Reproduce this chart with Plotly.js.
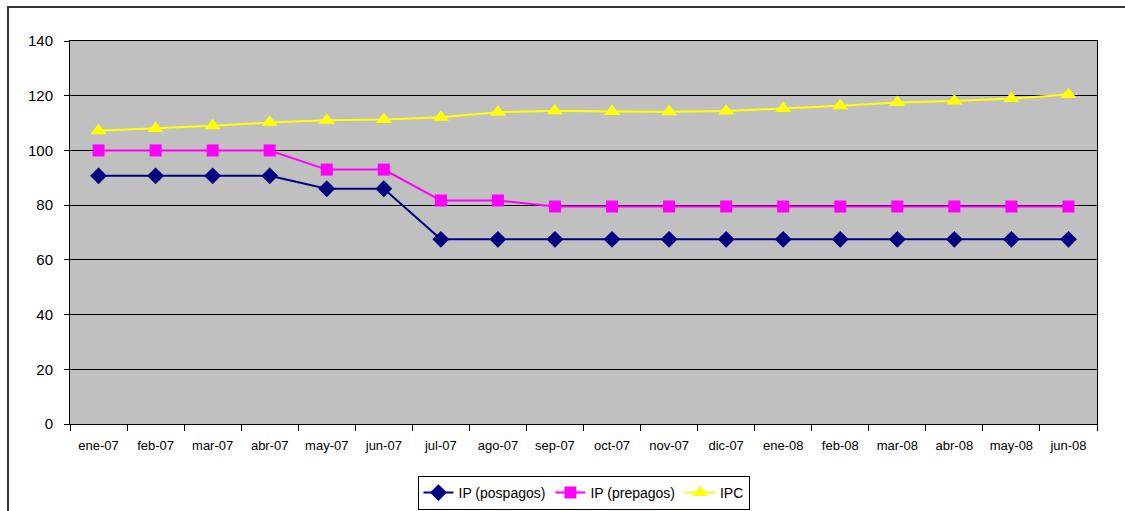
<!DOCTYPE html>
<html>
<head>
<meta charset="utf-8">
<script src="https://cdn.plot.ly/plotly-3.0.1.min.js"></script>
<style>
html,body{margin:0;padding:0;background:#fff;}
#chart{width:1125px;height:511px;}
</style>
</head>
<body>
<div id="chart"></div>
<script>
const months = ["ene-07","feb-07","mar-07","abr-07","may-07","jun-07","jul-07","ago-07","sep-07","oct-07","nov-07","dic-07","ene-08","feb-08","mar-08","abr-08","may-08","jun-08"];
const ipPospagos = [90.7,90.7,90.7,90.7,86,86,67.5,67.5,67.5,67.5,67.5,67.5,67.5,67.5,67.5,67.5,67.5,67.5];
const ipPrepagos = [100,100,100,100,93,93,81.7,81.7,79.5,79.5,79.5,79.5,79.5,79.5,79.5,79.5,79.5,79.5];
const ipc = [107.2,108,109,110.2,111,111.3,112.1,114,114.5,114.2,114.1,114.4,115.3,116.3,117.5,118.1,119,120.4];
const yTicks = [0,20,40,60,80,100,120,140];

const traces = [
  {x: months, y: ipPospagos, name: "IP (pospagos)", type: "scatter", mode: "lines+markers",
   line: {color: "#000080", width: 2}, marker: {symbol: "diamond", size: 13, color: "#000080"}},
  {x: months, y: ipPrepagos, name: "IP (prepagos)", type: "scatter", mode: "lines+markers",
   line: {color: "#FF00FF", width: 2}, marker: {symbol: "square", size: 12, color: "#FF00FF"}},
  {x: months, y: ipc, name: "IPC", type: "scatter", mode: "lines+markers",
   line: {color: "#FFFF00", width: 2}, marker: {symbol: "triangle-up", size: 14, color: "#FFFF00"}}
];

const layout = {
  width: 1125, height: 511,
  margin: {l: 70, r: 28, t: 41, b: 87, autoexpand: false},
  paper_bgcolor: "#ffffff",
  plot_bgcolor: "#C0C0C0",
  font: {family: "Liberation Sans, Arial, sans-serif", size: 13, color: "#000"},
  showlegend: true,
  legend: {orientation: "h", x: 0.5, xanchor: "center", y: (424 - 510) / 383, yanchor: "bottom",
    bordercolor: "#000", borderwidth: 1, bgcolor: "#fff", font: {size: 14},
    itemwidth: 30, tracegroupgap: 0},
  xaxis: {type: "category", categoryorder: "array", categoryarray: months,
    range: [-0.5, 17.5], showgrid: false, zeroline: false, automargin: false,
    showline: true, linecolor: "#000", linewidth: 1, mirror: true,
    ticks: "outside", tickson: "boundaries", ticklen: 6, tickcolor: "#000",
    ticklabelstandoff: 9, tickfont: {size: 13}, fixedrange: true},
  yaxis: {range: [0, 140], tickvals: yTicks, ticktext: yTicks.map(String), automargin: false,
    showgrid: true, gridcolor: "#000", gridwidth: 1, zeroline: false,
    showline: true, linecolor: "#000", linewidth: 1, mirror: true,
    ticks: "outside", ticklen: 5, tickcolor: "#000", ticklabelstandoff: 8,
    tickfont: {size: 15}, fixedrange: true},
  shapes: [
    {type: "rect", xref: "paper", yref: "paper",
     x0: (8 - 70) / 1027, x1: (1140 - 70) / 1027,
     y0: (424 - 520) / 383, y1: 1 + (41 - 7) / 383,
     line: {color: "#333", width: 2}, fillcolor: "rgba(0,0,0,0)", layer: "below"}
  ]
};

Plotly.newPlot("chart", traces, layout, {displayModeBar: false, staticPlot: true});
</script>
</body>
</html>
